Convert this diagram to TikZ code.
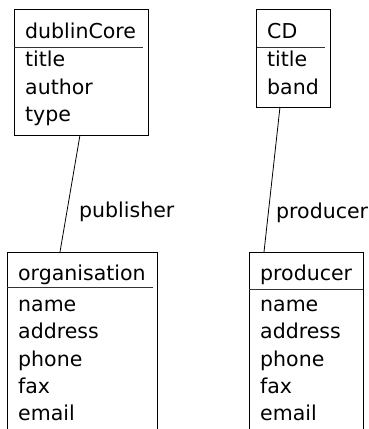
\documentclass[tikz,border=0pt]{standalone}
\usepackage{fontspec}
\setmainfont{DejaVu Sans}
\begin{document}
\begin{tikzpicture}[x=1pt,y=-1pt,
  box/.style={draw=black,line width=1pt,inner sep=0pt,outer sep=0pt,anchor=north west},
  sep/.style={draw=black!80,line width=1pt},
  txt/.style={anchor=base west,inner sep=0pt,font=\fontsize{20.5}{24}\selectfont},
  link/.style={draw=black,line width=0.8pt}]
\useasboundingbox (0,0) rectangle (369,429);
\clip (0,0) rectangle (369,429);
% dublinCore
\node[box,minimum width=134pt,minimum height=126pt] (dc) at (14,9) {};
\draw[sep] (14,47) -- (143,47);
\node[txt] (dcn) at (25,38) {dublinCore};
\node[txt] (dc1) at (25,66.5) {title};
\node[txt] (dc2) at (25,94) {author};
\node[txt] (dc3) at (25,121.5) {type};
% CD
\node[box,minimum width=73.5pt,minimum height=98pt] (cd) at (256.5,9) {};
\draw[sep] (256.5,47) -- (325,47);
\node[txt] (cdn) at (267,38) {CD};
\node[txt] (cd1) at (267,66.5) {title};
\node[txt] (cd2) at (267,94) {band};
% organisation
\node[box,minimum width=150pt,minimum height=200pt] (org) at (7,252) {};
\draw[sep] (7,287.5) -- (153,287.5);
\node[txt] (orgn) at (18,280.5) {organisation};
\node[txt] (org1) at (18,311) {name};
\node[txt] (org2) at (18,338.5) {address};
\node[txt] (org3) at (18,366) {phone};
\node[txt] (org4) at (18,393) {fax};
\node[txt] (org5) at (18,420) {email};
% producer
\node[box,minimum width=114pt,minimum height=200pt] (pro) at (249,252) {};
\draw[sep] (249,289) -- (363,289);
\node[txt] (pron) at (260,280.5) {producer};
\node[txt] (pro1) at (260,311) {name};
\node[txt] (pro2) at (260,338.5) {address};
\node[txt] (pro3) at (260,366) {phone};
\node[txt] (pro4) at (260,393) {fax};
\node[txt] (pro5) at (260,420) {email};
% connectors
\coordinate (dcb) at (dc.south -| 80,0);
\coordinate (orgt) at (org.north -| 60,0);
\coordinate (cdb) at (cd.south -| 280,0);
\coordinate (prot) at (pro.north -| 264,0);
\draw[link] (dcb) -- (orgt);
\draw[link] (cdb) -- (prot);
\node[txt] (lab1) at (79,217) {publisher};
\node[txt] (lab2) at (276,218) {producer};
\end{tikzpicture}
\end{document}
